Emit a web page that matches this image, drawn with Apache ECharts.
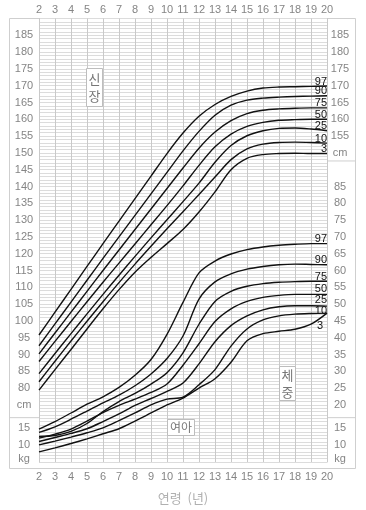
<!DOCTYPE html>
<html><head><meta charset="utf-8">
<script src="https://cdn.jsdelivr.net/npm/echarts@6/dist/echarts.min.js"></script>
<style>html,body{margin:0;padding:0;background:#fff}#c{width:366px;height:510px}</style>
</head><body><div id="c"></div>
<script>
// ---- data ----
const ages = [2,3,4,5,6,7,8,9,10,11,12,13,14,15,16,17,18,19,20];
const percentiles = ['3','10','25','50','75','90','97'];

// height (cm)
const height3  = [79.4,85.5,91.5,97.6,103.6,109.3,114.5,118.9,123.0,127.2,132.4,138.4,145.0,148.4,149.5,149.8,149.9,149.8,149.8];
const height10 = [81.9,88.0,94.0,99.9,105.7,111.4,116.9,122.2,127.4,132.5,137.6,142.8,148.0,151.2,152.6,153.1,153.2,153.1,152.9];
const height25 = [84.3,90.3,96.2,102.1,107.9,113.6,119.2,124.7,130.1,135.5,141.0,147.2,152.2,155.1,156.6,157.3,157.4,157.1,156.6];
const height50 = [87.9,93.9,99.8,105.7,111.5,117.2,122.9,128.6,134.3,140.2,146.3,151.8,155.6,157.9,159.1,159.7,159.9,160.0,160.0];
const height75 = [90.2,96.4,102.6,108.8,115.0,121.1,127.2,133.3,139.4,145.5,151.4,156.2,159.6,161.7,162.7,163.1,163.3,163.4,163.4];
const height90 = [92.6,99.1,105.6,112.1,118.6,125.0,131.4,137.8,144.2,150.6,156.4,161.2,164.2,165.7,166.3,166.6,166.8,166.9,167.0];
const height97 = [95.8,102.6,109.4,116.2,123.0,129.7,136.4,143.1,149.8,155.9,160.9,164.4,166.8,168.4,169.3,169.6,169.7,169.8,169.9];

// weight (kg)
const weight3  = [8.1,9.3,10.6,12.0,13.5,15.0,16.6,18.3,20.0,22.0,25.0,27.8,32.7,39.1,41.2,41.9,42.5,44.0,47.3];
const weight10 = [10.2,11.3,12.5,13.8,15.2,16.7,18.3,20.0,21.7,22.3,26.0,30.5,37.5,42.6,45.3,46.5,47.0,47.2,47.3];
const weight25 = [11.2,12.4,13.6,15.0,16.5,18.1,19.9,21.9,24.0,26.5,32.2,38.8,43.6,46.5,48.3,49.2,49.5,49.5,49.4];
const weight50 = [12.2,13.4,14.9,16.6,18.4,19.9,21.7,23.7,26.2,31.8,38.2,44.8,48.6,50.8,52.0,52.6,52.9,52.9,52.9];
const weight75 = [12.7,13.0,14.2,16.1,18.6,21.0,23.4,26.2,29.6,35.5,44.0,50.8,53.8,55.3,56.1,56.5,56.7,56.8,56.8];
const weight90 = [13.9,15.4,17.0,18.7,20.6,22.9,25.7,29.2,33.8,40.5,51.5,56.6,59.0,60.4,61.2,61.7,61.9,61.8,61.7];
const weight97 = [14.9,16.5,18.3,20.2,22.4,25.2,28.8,33.5,41.0,50.5,59.3,62.8,64.9,66.2,67.0,67.5,67.8,68.0,68.0];

// tick labels
const ageTicks = ages;
const heightTicks = [80,85,90,95,100,105,110,115,120,125,130,135,140,145,150,155,160,165,170,175,180,185];
const weightTicks = [10,15,20,25,30,35,40,45,50,55,60,65,70,75,80,85];

// ---- weight -> shared chart scale (broken scale below 20 kg) ----
function wToY(w){
  if (w >= 20) return w + 55;
  if (w <= 15) return w + 52.9;
  return 67.9 + (w - 15) * (75 - 67.9) / 5;
}

const leftLabels = {};
heightTicks.forEach(v => leftLabels[v] = String(v));
leftLabels[75] = 'cm';
leftLabels[Math.round(wToY(15))] = '15';
leftLabels[Math.round(wToY(10))] = '10';
leftLabels[59] = 'kg';

const rightLabels = {};
heightTicks.filter(v => v >= 155).forEach(v => rightLabels[v] = String(v));
rightLabels[150] = 'cm';
weightTicks.forEach(w => rightLabels[Math.round(wToY(w))] = String(w));
rightLabels[59] = 'kg';

const heightData = [height3,height10,height25,height50,height75,height90,height97];
const weightData = [weight3,weight10,weight25,weight50,weight75,weight90,weight97];
const heightLabelOffset = [1,1,1,1,1,1,1];
const weightLabelOffset = [18,3,-1,0,1,0.5,1];

const numFont = 'Liberation Sans';
const series = [];
heightData.forEach((arr, i) => {
  series.push({
    type:'line', name:'h'+percentiles[i], smooth:0.3, showSymbol:false, clip:false, silent:true,
    lineStyle:{color:'#111', width:1.4},
    data: ages.map((a, k) => [a, arr[k]]),
    endLabel:{show:true, formatter:percentiles[i], align:'right', verticalAlign:'bottom', distance:0,
      offset:[0, heightLabelOffset[i]], color:'#111', fontSize:11, fontFamily:numFont}
  });
});
weightData.forEach((arr, i) => {
  series.push({
    type:'line', name:'w'+percentiles[i], smooth:0.3, showSymbol:false, clip:false, silent:true,
    lineStyle:{color:'#111', width:1.4},
    data: ages.map((a, k) => [a, wToY(arr[k])]),
    endLabel:{show:true, formatter:percentiles[i], align:'right', verticalAlign:'bottom', distance:0,
      offset:[i === 0 ? -4 : 0, weightLabelOffset[i]], color:'#111', fontSize:11, fontFamily:numFont}
  });
});

const chart = echarts.init(document.getElementById('c'));
const axisLabelStyle = {color:'#858585', fontSize:11, fontFamily:numFont};
chart.setOption({
  animation:false,
  grid:{left:39, right:39, top:18.5, height:448.8},
  xAxis:[
    {type:'value', min:2, max:20, interval:1, position:'bottom',
      axisLine:{show:false}, axisTick:{show:false},
      splitLine:{show:true, lineStyle:{color:'#c9c9c9', width:1}},
      axisLabel:Object.assign({margin:9, formatter:v => ageTicks.includes(v) ? String(v) : ''}, axisLabelStyle),
      name:'연령  (년)', nameLocation:'middle', nameGap:30,
      nameTextStyle:{color:'#b0b0b0', fontSize:13, fontFamily:'Noto Sans CJK KR'}},
    {type:'value', min:2, max:20, interval:1, position:'top',
      axisLine:{show:false}, axisTick:{show:false}, splitLine:{show:false},
      axisLabel:Object.assign({margin:3, formatter:v => ageTicks.includes(v) ? String(v) : ''}, axisLabelStyle)}
  ],
  yAxis:[
    {type:'value', min:58, max:190, interval:1, position:'left',
      axisLine:{show:true, lineStyle:{color:'#c9c9c9'}}, axisTick:{show:false},
      splitLine:{show:true, lineStyle:{color:'#dcdcdc', width:1}},
      axisLabel:Object.assign({margin:15, align:'center', formatter:v => leftLabels[v] || ''}, axisLabelStyle)},
    {type:'value', min:58, max:190, interval:1, position:'right',
      axisLine:{show:true, lineStyle:{color:'#c9c9c9'}}, axisTick:{show:false}, splitLine:{show:false},
      axisLabel:Object.assign({margin:13, align:'center', formatter:v => rightLabels[v] || ''}, axisLabelStyle)}
  ],
  series: series
});

// ---- decorations ----
const yPix = v => chart.convertToPixel({yAxisIndex:0}, v);
const xL = chart.convertToPixel({xAxisIndex:0}, 2);
const xR = chart.convertToPixel({xAxisIndex:0}, 20);
const sepLow = yPix(71.2), sepHigh = yPix(147.6);
function box(x, y, w, h, text, fs){
  return {type:'group', z:100, children:[
    {type:'rect', shape:{x:x, y:y, width:w, height:h}, style:{fill:'#fff', stroke:'#bdbdbd', lineWidth:1}},
    {type:'text', style:{x:x + w/2, y:y + h/2, text:text, align:'center', verticalAlign:'middle',
      fill:'#777', fontSize:fs, lineHeight:fs + 4, fontFamily:'Noto Sans CJK KR'}}
  ]};
}
chart.setOption({graphic:[
  {type:'rect', z:-1, shape:{x:9.5, y:18.5, width:346, height:450}, style:{fill:null, stroke:'#cfcfcf', lineWidth:1}},
  {type:'line', shape:{x1:9.5, y1:sepLow, x2:xL, y2:sepLow}, style:{stroke:'#cfcfcf', lineWidth:1}},
  {type:'line', shape:{x1:xR, y1:sepLow, x2:355.5, y2:sepLow}, style:{stroke:'#cfcfcf', lineWidth:1}},
  {type:'line', shape:{x1:xR, y1:sepHigh, x2:355.5, y2:sepHigh}, style:{stroke:'#cfcfcf', lineWidth:1}},
  box(86.5, 68.5, 16, 38, '신\n장', 13),
  box(279.5, 366.5, 16, 34, '체\n중', 13),
  box(167.5, 419.5, 27, 16, '여아', 12)
]});
</script>
</body></html>
